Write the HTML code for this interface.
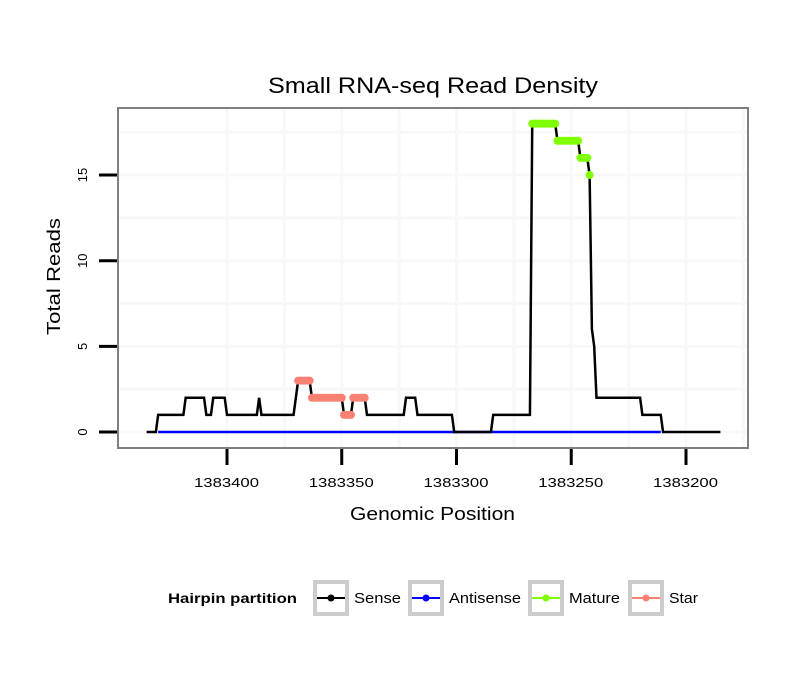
<!DOCTYPE html>
<html><head><meta charset="utf-8"><style>
body{margin:0;background:#fff}
svg{display:block;font-family:"Liberation Sans",Arial,sans-serif}
</style></head><body>
<svg id="chart" width="810" height="690" viewBox="0 0 810 690">
<rect x="0" y="0" width="810" height="690" fill="#fff"/>
<text x="268" y="93" font-size="22" textLength="330" lengthAdjust="spacingAndGlyphs">Small RNA-seq Read Density</text>
<g id="grid"></g>
<g id="series"></g>
<rect x="118" y="108" width="630" height="340" fill="none" stroke="#7f7f7f" stroke-width="2"/>
<g id="axes"></g>
<text x="350" y="520" font-size="18" textLength="165" lengthAdjust="spacingAndGlyphs">Genomic Position</text>
<text transform="translate(60,335) rotate(-90)" font-size="18" textLength="117" lengthAdjust="spacingAndGlyphs">Total Reads</text>
<g>
<text x="168" y="603" font-size="14" font-weight="bold" textLength="129" lengthAdjust="spacingAndGlyphs">Hairpin partition</text>
<g>
<rect x="315" y="582" width="32" height="32" fill="#fff" stroke="#ccc" stroke-width="4"/>
<line x1="317" y1="598" x2="345" y2="598" stroke="#000" stroke-width="2"/><circle cx="331" cy="598" r="3.5" fill="#000"/>
<text x="354" y="603" font-size="15" textLength="47" lengthAdjust="spacingAndGlyphs">Sense</text></g>
<g>
<rect x="410" y="582" width="32" height="32" fill="#fff" stroke="#ccc" stroke-width="4"/>
<line x1="412" y1="598" x2="440" y2="598" stroke="#00f" stroke-width="2"/><circle cx="426" cy="598" r="3.5" fill="#00f"/>
<text x="449" y="603" font-size="15" textLength="72" lengthAdjust="spacingAndGlyphs">Antisense</text></g>
<g>
<rect x="530" y="582" width="32" height="32" fill="#fff" stroke="#ccc" stroke-width="4"/>
<line x1="532" y1="598" x2="560" y2="598" stroke="#7fff00" stroke-width="2"/><circle cx="546" cy="598" r="3.5" fill="#7fff00"/>
<text x="569" y="603" font-size="15" textLength="51" lengthAdjust="spacingAndGlyphs">Mature</text></g>
<g>
<rect x="630" y="582" width="32" height="32" fill="#fff" stroke="#ccc" stroke-width="4"/>
<line x1="632" y1="598" x2="660" y2="598" stroke="#fa8072" stroke-width="2"/><circle cx="646" cy="598" r="3.5" fill="#fa8072"/>
<text x="669" y="603" font-size="15" textLength="29" lengthAdjust="spacingAndGlyphs">Star</text></g>
</g>
</svg>
<script>
// sense runs: start position (descending) and value
const runStarts = [1383435,1383430,1383418,1383409,1383406,1383400,1383386,1383385,1383370,1383369,1383363,1383349,1383345,1383339,1383322,1383317,1383301,1383284,1383267,1383256,1383246,1383242,1383241,1383240,1383239,1383219,1383210];
const runValues = [0,1,2,1,2,1,2,1,2,3,2,1,2,1,2,1,0,1,18,17,16,15,6,5,2,1,0];
const endPosition = 1383185;
const antisenseRange = [1383430,1383211];
const matureRange = [1383267,1383242];
const starRange = [1383369,1383340];
const xTicks = [1383400,1383350,1383300,1383250,1383200];
const yTicks = [0,5,10,15];

const NS="http://www.w3.org/2000/svg";
const X = p => 227 + (1383400 - p) * 2.295;
const Y = v => 432 - v * 17.13;
function mk(tag, attrs, parent){const e=document.createElementNS(NS,tag);for(const k in attrs)e.setAttribute(k,attrs[k]);parent.appendChild(e);return e;}
const grid=document.getElementById('grid'), series=document.getElementById('series'), axes=document.getElementById('axes');

const pos=[], val=[];
for(let i=0;i<runStarts.length;i++){
  const end = i+1<runStarts.length ? runStarts[i+1] : endPosition-1;
  for(let p=runStarts[i]; p>end; p--){pos.push(p);val.push(runValues[i]);}
}
const valueAt = p => val[pos.indexOf(p)];

for(let i=0;i<xTicks.length;i++){
  for(const p of [xTicks[i], xTicks[i]-25]){
    const g=mk('line',{x1:X(p),x2:X(p),y1:109,y2:447,stroke:'#f8f8f8','stroke-width':3},grid);
    
    
  }
}
for(let v=0; v<=17.5; v+=2.5){
  const g=mk('line',{x1:119,x2:747,y1:Y(v),y2:Y(v),stroke:'#f8f8f8','stroke-width':3},grid);
  
  
}

const a=mk('line',{x1:X(antisenseRange[0]),x2:X(antisenseRange[1]),y1:Y(0),y2:Y(0),stroke:'#00f','stroke-width':2.5},series);



const sl=mk('polyline',{points:pos.map((p,i)=>X(p)+','+Y(val[i])).join(' '),fill:'none',stroke:'#000','stroke-width':2.5},series);



for(const [rng,col,nm] of [[matureRange,'#7fff00','mature-point'],[starRange,'#fa8072','star-point']]){
  for(let p=rng[0]; p>=rng[1]; p--){
    const c=mk('circle',{cx:X(p),cy:Y(valueAt(p)),r:4,fill:col},series);
    
    
  }
}

for(const t of xTicks){
  const l=mk('line',{x1:X(t),x2:X(t),y1:449,y2:465,stroke:'#000','stroke-width':3},axes);
  
  
  const tx=mk('text',{x:X(t)-33,y:487,'font-size':13,textLength:65,lengthAdjust:'spacingAndGlyphs'},axes);
  tx.textContent=t;
  
  
}
for(const t of yTicks){
  const l=mk('line',{x1:99,x2:117,y1:Y(t),y2:Y(t),stroke:'#000','stroke-width':3},axes);
  
  
  const tx=mk('text',{transform:`translate(87,${Y(t)}) rotate(-90)`,'font-size':13,'text-anchor':'middle'},axes);
  tx.textContent=t;
  
  
}
</script>
</body></html>
